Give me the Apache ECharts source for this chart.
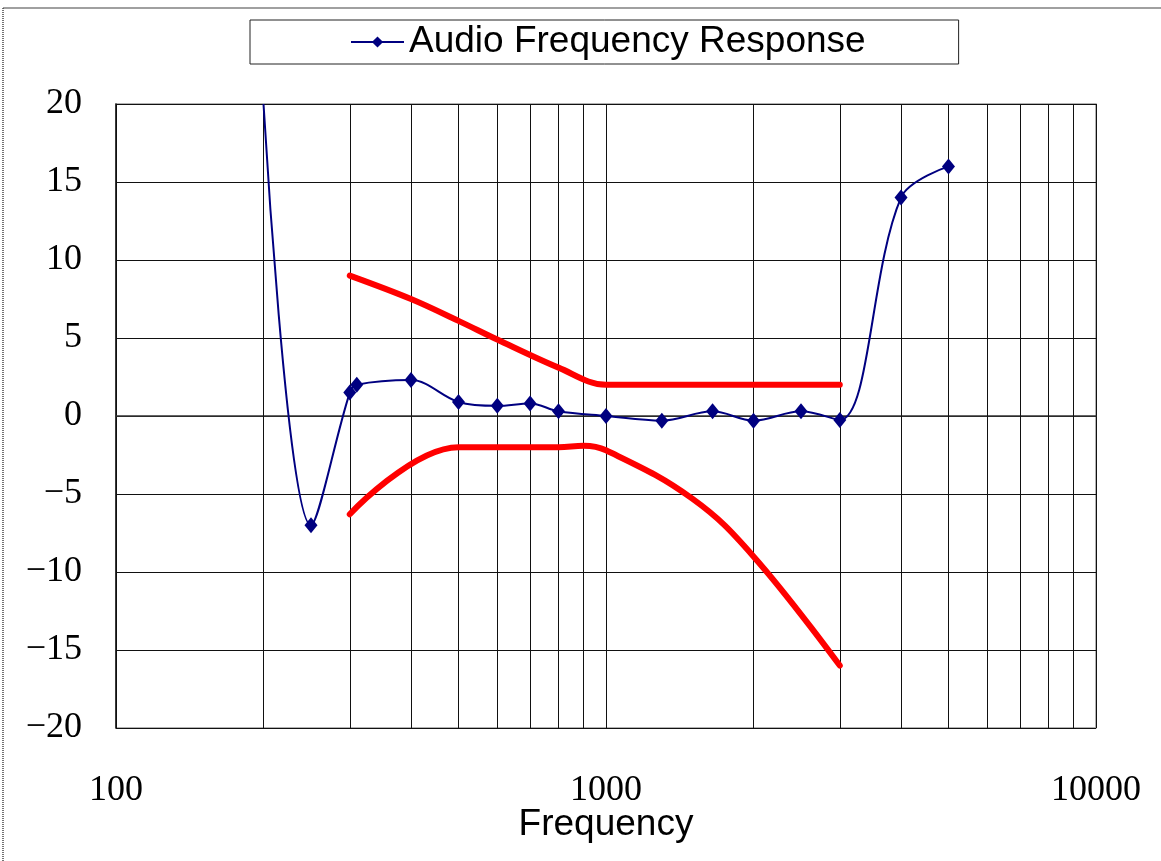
<!DOCTYPE html>
<html>
<head>
<meta charset="utf-8">
<script src="https://cdn.jsdelivr.net/npm/echarts@6/dist/echarts.min.js"></script>
<style>
html,body{margin:0;padding:0;background:#fff;}
#chart{width:1161px;height:861px;}
</style>
</head>
<body>
<div id="chart"></div>
<script>
// Measured response (frequency Hz, level dB)
var respFreq  = [200, 250, 300, 310, 400, 500, 600, 700, 800, 1000, 1300, 1650, 2000, 2500, 3000, 4000, 5000];
var respLevel = [20,  -7,  1.5, 2.0, 2.3, 0.9, 0.65, 0.8, 0.3, 0.0, -0.3, 0.3, -0.3, 0.3, -0.25, 14, 16];
// Upper tolerance limit
var upFreq  = [300, 400, 500, 600, 800, 1000, 2000, 3000];
var upLevel = [9,   7.5, 6.1, 4.9, 3.1, 2,    2,    2];
// Lower tolerance limit
var loFreq  = [300,  500, 600, 800, 900,  1000, 1500, 2000, 3000];
var loLevel = [-6.3, -2,  -2,  -2,  -1.9, -2.2, -5.3, -9,   -16];
// Minor vertical grid positions (log decades)
var minorGrid = [200, 300, 400, 500, 600, 700, 800, 900, 2000, 3000, 4000, 5000, 6000, 7000, 8000, 9000];
var seriesName = 'Audio Frequency Response';
var xName = 'Frequency';

function pairs(xs, ys) { return xs.map(function (x, i) { return [x, ys[i]]; }); }

var respData = pairs(respFreq, respLevel).map(function (p, i) {
  return i === 0 ? { value: p, symbol: 'none' } : p;
});

var chart = echarts.init(document.getElementById('chart'), null, { renderer: 'canvas' });
chart.setOption({
  backgroundColor: '#fff',
  animation: false,
  graphic: [
    { type: 'line', shape: { x1: 3, y1: 8, x2: 1161, y2: 8 }, style: { stroke: '#a0a0a0', lineWidth: 2 } },
    { type: 'line', shape: { x1: 3, y1: 8, x2: 3, y2: 861 }, style: { stroke: '#444', lineWidth: 1.5, lineDash: [1, 1] } }
  ],
  legend: {
    data: [seriesName],
    left: 250, top: 20,
    padding: [3, 93, 3, 100],
    borderColor: '#222', borderWidth: 1,
    itemWidth: 53, itemHeight: 14, itemGap: 5,
    textStyle: { fontFamily: 'Liberation Sans, Arial, sans-serif', fontSize: 37, color: '#000', lineHeight: 38 }
  },
  grid: {
    left: 116, right: 65, top: 104, bottom: 133,
    show: true, borderColor: '#999', borderWidth: 1.5, backgroundColor: 'transparent'
  },
  xAxis: {
    type: 'log', logBase: 10, min: 100, max: 10000,
    name: xName, nameLocation: 'middle', nameGap: 78, nameMoveOverlap: false,
    nameTextStyle: { fontFamily: 'Liberation Sans, Arial, sans-serif', fontSize: 37, color: '#000' },
    axisLine: { show: true, lineStyle: { color: '#333', width: 1.5 } },
    axisTick: { show: false },
    splitLine: { show: true, lineStyle: { color: '#111', width: 1 } },
    minorTick: { show: false },
    minorSplitLine: { show: false },
    axisLabel: {
      margin: 45,
      fontFamily: 'Liberation Serif, Times New Roman, serif', fontSize: 36, color: '#000',
      showMinLabel: true, showMaxLabel: true,
      formatter: function (v) { return String(Math.round(v)); }
    }
  },
  yAxis: {
    type: 'value', min: -20, max: 20, interval: 5,
    axisLine: { show: true, lineStyle: { color: '#111', width: 1.5 } },
    axisTick: { show: false },
    splitLine: { show: true, lineStyle: { color: '#111', width: 1 } },
    axisLabel: {
      margin: 34,
      fontFamily: 'Liberation Serif, Times New Roman, serif', fontSize: 36, color: '#000',
      formatter: function (v) { return String(v).replace('-', '\u2212'); }
    }
  },
  series: [
    {
      name: 'Upper limit', type: 'line', data: pairs(upFreq, upLevel),
      smooth: 0.35, showSymbol: false, symbol: 'none',
      lineStyle: { color: '#ff0000', width: 6, cap: 'round' },
      z: 3,
      markLine: {
        silent: true, symbol: 'none', label: { show: false },
        lineStyle: { color: '#111', width: 1, type: 'solid' },
        data: minorGrid.map(function (f) { return { xAxis: f }; }),
        z: 1
      }
    },
    {
      name: 'Lower limit', type: 'line', data: pairs(loFreq, loLevel),
      smooth: 0.4, showSymbol: false, symbol: 'none',
      lineStyle: { color: '#ff0000', width: 6, cap: 'round' },
      z: 3
    },
    {
      name: seriesName, type: 'line', data: respData,
      smooth: 0.35,
      symbol: 'diamond', symbolSize: [13, 16], showAllSymbol: true,
      itemStyle: { color: '#000080' },
      lineStyle: { color: '#000080', width: 2 },
      z: 4
    }
  ]
});
</script>
</body>
</html>
